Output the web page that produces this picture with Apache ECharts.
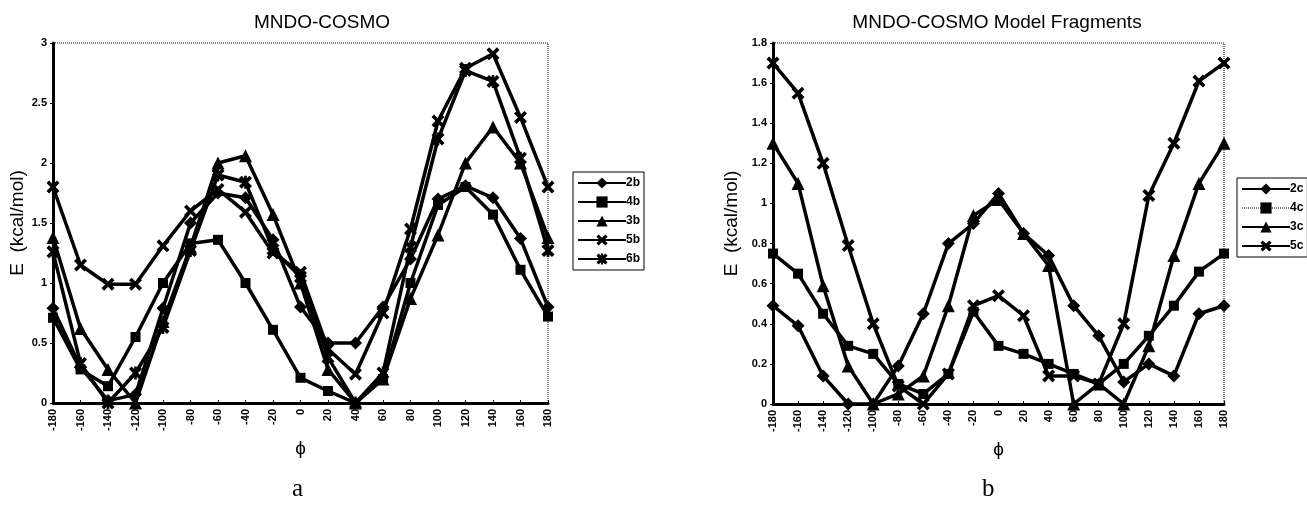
<!DOCTYPE html>
<html>
<head>
    <meta charset="utf-8">
    <title>MNDO-COSMO</title>
    <script src="https://cdn.jsdelivr.net/npm/echarts@6/dist/echarts.min.js"></script>
    <style>
        html, body { margin: 0; padding: 0; background: #fff; }
        #chart { width: 1307px; height: 508px; }
    </style>
</head>
<body>
<div id="chart"></div>
<script>
    // torsion angle (phi) categories, shared by both panels
    var phi = [-180, -160, -140, -120, -100, -80, -60, -40, -20, 0, 20, 40, 60, 80, 100, 120, 140, 160, 180];

    // panel a: MNDO-COSMO
    var e2b = [0.79, 0.3, 0.02, 0.07, 0.79, 1.5, 1.75, 1.71, 1.36, 0.8, 0.5, 0.5, 0.8, 1.2, 1.7, 1.81, 1.71, 1.37, 0.8];
    var e4b = [0.71, 0.28, 0.14, 0.55, 1.0, 1.33, 1.36, 1.0, 0.61, 0.21, 0.1, 0.0, 0.2, 1.0, 1.65, 1.8, 1.57, 1.11, 0.72];
    var e3b = [1.38, 0.62, 0.28, 0.0, 0.68, 1.3, 2.0, 2.06, 1.57, 1.0, 0.28, 0.0, 0.2, 0.87, 1.4, 2.0, 2.3, 2.0, 1.38];
    var e5b = [1.8, 1.15, 0.99, 0.99, 1.31, 1.6, 1.78, 1.59, 1.25, 1.09, 0.45, 0.24, 0.75, 1.45, 2.35, 2.79, 2.91, 2.38, 1.8];
    var e6b = [1.26, 0.33, 0.0, 0.25, 0.63, 1.27, 1.9, 1.84, 1.28, 1.05, 0.38, 0.0, 0.25, 1.3, 2.2, 2.77, 2.68, 2.04, 1.27];

    // panel b: MNDO-COSMO model fragments
    var e2c = [0.49, 0.39, 0.14, 0.0, 0.0, 0.19, 0.45, 0.8, 0.9, 1.05, 0.85, 0.74, 0.49, 0.34, 0.11, 0.2, 0.14, 0.45, 0.49];
    var e4c = [0.75, 0.65, 0.45, 0.29, 0.25, 0.1, 0.05, 0.15, 0.46, 0.29, 0.25, 0.2, 0.15, 0.1, 0.2, 0.34, 0.49, 0.66, 0.75];
    var e3c = [1.3, 1.1, 0.59, 0.19, 0.0, 0.05, 0.14, 0.49, 0.94, 1.02, 0.85, 0.69, 0.0, 0.1, 0.0, 0.29, 0.74, 1.1, 1.3];
    var e5c = [1.7, 1.55, 1.2, 0.79, 0.4, 0.09, 0.0, 0.15, 0.49, 0.54, 0.44, 0.14, 0.14, 0.1, 0.4, 1.04, 1.3, 1.61, 1.7];

    var yTicksA = [0, 3, 0.5];   // min, max, step
    var yTicksB = [0, 1.8, 0.2];

    var symX = 'path://M2,0 L5,3 L8,0 L10,2 L7,5 L10,8 L8,10 L5,7 L2,10 L0,8 L3,5 L0,2 Z';
    var symStar = 'path://M2,0 L5,3 L8,0 L10,2 L7,5 L10,8 L8,10 L5,7 L2,10 L0,8 L3,5 L0,2 Z M4,0 L6,0 L6,10 L4,10 Z';

    var font = 'Arial, "Liberation Sans", sans-serif';
    var myChart = echarts.init(document.getElementById('chart'));

    function mkSeries(name, data, symbol, size, gi) {
        return {
            name: name,
            type: 'line',
            xAxisIndex: gi,
            yAxisIndex: gi,
            data: data,
            symbol: symbol,
            symbolSize: size,
            showAllSymbol: true,
            animation: false,
            lineStyle: {color: '#000', width: 3.5},
            itemStyle: {color: '#000'}
        };
    }

    function mkX(gi) {
        return {
            type: 'category',
            gridIndex: gi,
            data: phi,
            boundaryGap: false,
            name: 'ϕ',
            nameLocation: 'middle',
            nameGap: 33,
            nameTextStyle: {fontSize: 19, color: '#000', fontFamily: font},
            axisLine: {lineStyle: {color: '#000', width: 3}},
            axisTick: {inside: true, length: 3, lineStyle: {color: '#000'}},
            axisLabel: {rotate: 90, color: '#000', fontSize: 11, fontWeight: 'bold', fontFamily: font, margin: 6, interval: 0},
            splitLine: {show: false}
        };
    }

    function mkY(gi, t, gap) {
        return {
            type: 'value',
            gridIndex: gi,
            min: t[0],
            max: t[1],
            interval: t[2],
            name: 'E  (kcal/mol)',
            nameLocation: 'middle',
            nameGap: gap,
            nameRotate: 90,
            nameTextStyle: {fontSize: 19, color: '#000', fontFamily: font},
            axisLine: {show: true, lineStyle: {color: '#000', width: 3}},
            axisTick: {show: true, length: 3, lineStyle: {color: '#000'}},
            axisLabel: {color: '#000', fontSize: 11, fontWeight: 'bold', fontFamily: font, margin: 6},
            splitLine: {show: false}
        };
    }

    function mkLegend(names, left, top) {
        return {
            orient: 'vertical',
            left: left,
            top: top,
            data: names,
            itemWidth: 48,
            itemHeight: 14,
            itemGap: 7,
            padding: [5, 4, 5, 4],
            borderColor: '#000',
            borderWidth: 1,
            textStyle: {fontSize: 12, fontWeight: 'bold', color: '#000', fontFamily: font, padding: [0, 0, 0, -5]}
        };
    }

    var option = {
        backgroundColor: '#fff',
        animation: false,
        title: [
            {text: 'MNDO-COSMO', left: 317, top: 8, textAlign: 'center',
                textStyle: {fontSize: 19, fontWeight: 'normal', color: '#000', fontFamily: font}},
            {text: 'MNDO-COSMO Model Fragments', left: 992, top: 8, textAlign: 'center',
                textStyle: {fontSize: 19, fontWeight: 'normal', color: '#000', fontFamily: font}}
        ],
        grid: [
            {left: 53, right: 759, top: 43, bottom: 105, show: true, borderColor: '#000', borderWidth: 1, borderType: 'dotted', containLabel: false},
            {left: 773, right: 83, top: 43, bottom: 104, show: true, borderColor: '#000', borderWidth: 1, borderType: 'dotted', containLabel: false}
        ],
        legend: [
            mkLegend(['2b', '4b', '3b', '5b', '6b'], 573, 172),
            mkLegend(['2c', {name: '4c', lineStyle: {width: 1, type: 'dotted'}}, '3c', '5c'], 1237, 178)
        ],
        xAxis: [mkX(0), mkX(1)],
        yAxis: [mkY(0, yTicksA, 26), mkY(1, yTicksB, 32)],
        series: [
            mkSeries('2b', e2b, 'diamond', 13, 0),
            mkSeries('4b', e4b, 'rect', 10, 0),
            mkSeries('3b', e3b, 'triangle', 13, 0),
            mkSeries('5b', e5b, symX, 13, 0),
            mkSeries('6b', e6b, symStar, 13, 0),
            mkSeries('2c', e2c, 'diamond', 13, 1),
            mkSeries('4c', e4c, 'rect', 10, 1),
            mkSeries('3c', e3c, 'triangle', 13, 1),
            mkSeries('5c', e5c, symX, 13, 1)
        ],
        graphic: [
            {type: 'text', left: 292, top: 477, style: {text: 'a', fontSize: 25, fontFamily: '"Liberation Serif", "DejaVu Serif", serif', fill: '#000'}},
            {type: 'text', left: 982, top: 477, style: {text: 'b', fontSize: 25, fontFamily: '"Liberation Serif", "DejaVu Serif", serif', fill: '#000'}}
        ]
    };
    myChart.setOption(option);
</script>
</body>
</html>
